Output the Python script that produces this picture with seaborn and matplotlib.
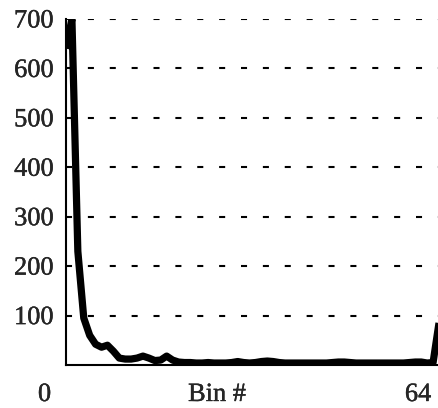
import numpy as np
import pandas as pd
import matplotlib
matplotlib.use("Agg")
import matplotlib.pyplot as plt
import matplotlib.patheffects as pe
import seaborn as sns

# Histogram counts per bin (64 bins)
bins = list(range(64))
counts = [640, 700, 230, 95, 60, 42, 36, 40, 28, 14,
          12, 12, 14, 18, 14, 9, 10, 18, 10, 6,
          5, 5, 4, 4, 5, 4, 4, 4, 5, 7,
          5, 4, 5, 7, 8, 7, 5, 4, 4, 4,
          4, 4, 4, 4, 4, 5, 6, 6, 5, 4,
          4, 4, 4, 4, 4, 4, 4, 4, 5, 6,
          6, 4, 5, 85]
y_ticks = [100, 200, 300, 400, 500, 600, 700]
x_text = ["0", "Bin #", "64"]

df = pd.DataFrame({"bin": bins, "count": counts})

sns.set_style("white")
plt.rcParams["font.family"] = ["Liberation Serif", "DejaVu Serif"]

fig = plt.figure(figsize=(4.39, 4.08), dpi=100)
ax = fig.add_axes([66 / 439, 43 / 408, 1 - 66 / 439, (365 - 19) / 408])

sns.lineplot(data=df, x="bin", y="count", ax=ax, color="black",
             linewidth=5.2, solid_joinstyle="round", solid_capstyle="butt")

ax.set_xlim(0, 63)
ax.set_ylim(0, 700)
ax.set_yticks(y_ticks)
ax.set_yticklabels([str(v) for v in y_ticks], fontsize=19)
ax.set_xticks([])
ax.set_xlabel("")
ax.set_ylabel("")
ax.tick_params(axis="y", length=0, pad=9)

# slightly heavier glyphs
heavy = [pe.withStroke(linewidth=0.25, foreground="black")]
for lbl in ax.get_yticklabels():
    lbl.set_path_effects(heavy)

# dashed horizontal grid lines
for v in y_ticks:
    ax.axhline(v, color="black", linewidth=1.5,
               linestyle=(0, (2.9, 7.6)), zorder=0)

for side in ["top", "right"]:
    ax.spines[side].set_visible(False)
for side in ["left", "bottom"]:
    ax.spines[side].set_color("black")
    ax.spines[side].set_linewidth(1.5)

# bottom labels
ybase = 1 - 401 / 408
for xpix, s in zip([44.5, 217, 418], x_text):
    fig.text(xpix / 439, ybase, s, ha="center", va="baseline", fontsize=19,
             path_effects=heavy)

fig.savefig("out.png", dpi=100)
